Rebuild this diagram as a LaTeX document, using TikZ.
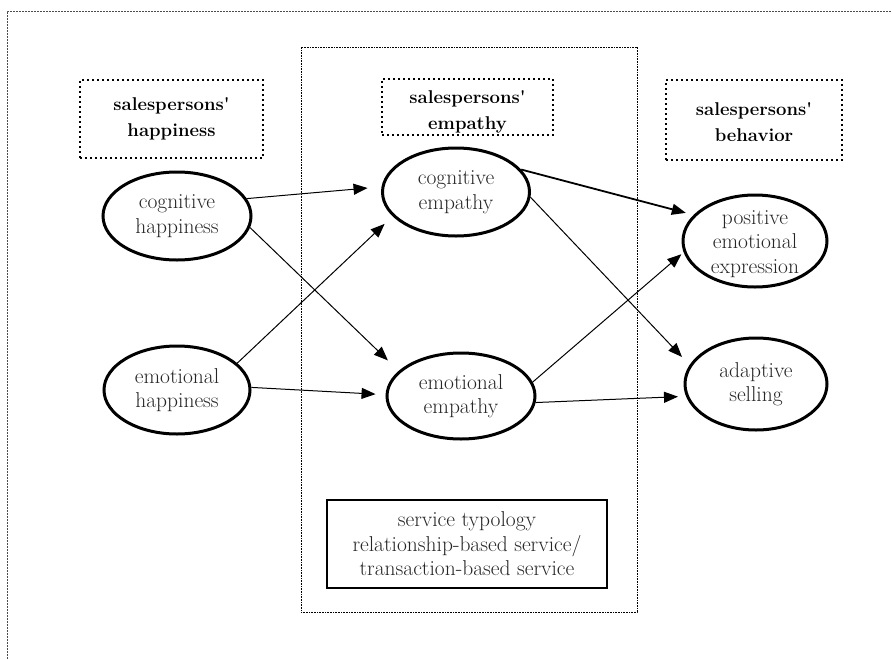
\documentclass[tikz,border=0pt]{standalone}
\usetikzlibrary{shapes.geometric,arrows.meta}
\begin{document}
\begin{tikzpicture}[x=1pt,y=-1pt,
  txt/.style={font=\fontsize{21.5}{24.5}\selectfont,align=center,text=black!85},
  btxt/.style={font=\bfseries\fontsize{18.5}{26}\selectfont,align=center},
  ell/.style={ellipse,draw,line width=3pt,inner sep=0pt,txt},
  dotbox/.style={draw,line width=2pt,dash pattern=on 2pt off 3pt,inner sep=0pt,btxt},
  arr/.style={line width=1pt,-{Triangle[length=14pt,width=11pt]}},
  frame/.style={gray!60!black,line width=1pt,dash pattern=on 2pt off 1pt}]
\useasboundingbox (0,0) rectangle (892,659);
% outer frame
\coordinate (ftl) at (7,11);
\coordinate (ftr) at (892,11);
\coordinate (fbl) at (7,659);
\draw[frame] (fbl) -- (ftl) -- (ftr);
% central dotted box
\node[draw,line width=0.8pt,dash pattern=on 0.8pt off 0.8pt,minimum width=336pt,minimum height=565pt,inner sep=0pt] (mid) at (469,329.5) {};
% header boxes
\node[dotbox,minimum width=183pt,minimum height=78pt] (hb) at (171.5,119) {salespersons\textquotesingle\\happiness};
\node[dotbox,minimum width=171pt,minimum height=56pt] (eb) at (467.5,107) {};
\node[btxt,inner sep=0pt] (ebt) at (467.5,112) {salespersons\textquotesingle\\empathy};
\node[dotbox,minimum width=176pt,minimum height=80pt] (bb) at (754,120) {};
\node[btxt,inner sep=0pt] (bbt) at (754,122) {salespersons\textquotesingle\\behavior};
% ellipses
\node[ell,minimum width=148pt,minimum height=88pt] (ch) at (177,216) {cognitive\\happiness};
\node[ell,minimum width=146pt,minimum height=88pt] (eh) at (177,390) {emotional\\happiness};
\node[ell,minimum width=147pt,minimum height=88pt] (ce) at (456,192) {cognitive\\empathy};
\node[ell,minimum width=148pt,minimum height=86pt] (ee) at (461,396) {emotional\\empathy};
\node[ell,minimum width=144pt,minimum height=92pt] (pe) at (755,241) {};
\node[txt,inner sep=0pt] (pet) at (755,244) {positive\\emotional\\expression};
\node[ell,minimum width=142pt,minimum height=92pt] (as) at (756,384) {adaptive\\selling};
% service box
\node[draw,line width=1.6pt,minimum width=280pt,minimum height=88pt,inner sep=0pt,txt] (sv) at (467,544) {service typology\\relationship-based service/\\transaction-based service};
% arrows
\draw[arr,shorten >=14pt] (ch.14) -- (ce.176);
\draw[arr,shorten >=15pt] (ch.-9) -- (ee.158);
\draw[arr,shorten >=11pt] (eh.24) -- (ce.201);
\draw[arr,shorten >=10pt] (eh.2) -- (ee.179);
\draw[arr,line width=1.8pt,shorten >=8pt] (ce.19) -- (pe.157);
\draw[arr,shorten >=11pt] (ce.-4) -- (as.164);
\draw[arr,shorten >=3pt] (ee.11) -- (pe.189);
\draw[arr,shorten >=8pt] (ee.-5) -- (as.190);
\end{tikzpicture}
\end{document}
